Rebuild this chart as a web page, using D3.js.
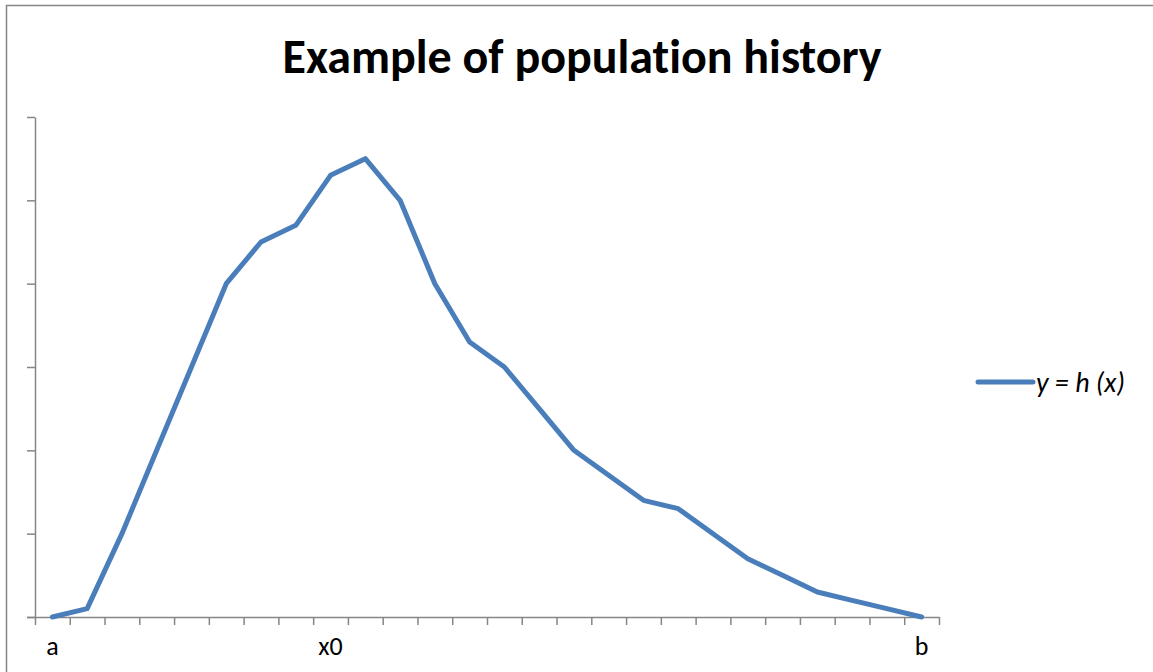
<!DOCTYPE html>
<html>
<head>
<meta charset="utf-8">
<script src="https://cdn.jsdelivr.net/npm/d3@7"></script>
<style>
  html, body { margin: 0; padding: 0; background: #fff; }
  svg { display: block; }
  text { font-variant-ligatures: none; }
</style>
</head>
<body>
<svg id="chart"></svg>
<script>
// category labels (only a few are shown on the axis)
const categories = [
  "a", "", "", "", "", "", "", "", "x0", "", "", "", "", "",
  "", "", "", "", "", "", "", "", "", "", "", "b"
];
// population values h(x)
const values = [
  0, 0.1, 1.0, 2.0, 3.0, 4.0, 4.5, 4.7, 5.3, 5.5, 5.0, 4.0, 3.3, 3.0,
  2.5, 2.0, 1.7, 1.4, 1.3, 1.0, 0.7, 0.5, 0.3, 0.2, 0.1, 0
];
const yTicks = [0, 1, 2, 3, 4, 5, 6];
const seriesName = "y = h (x)";
const title = "Example of population history";

const width = 1153;
const height = 672;
const plot = { left: 35, right: 939, top: 117, bottom: 617 };
const blue = "#4A7EBB";
const axisGrey = "#868686";
const font = "Carlito, Calibri, Lato, sans-serif";

const svg = d3.select("#chart")
  .attr("width", width)
  .attr("height", height);

// outer chart border (right/bottom edges fall outside the view)
svg.append("rect")
  .attr("x", 6.5)
  .attr("y", 5.5)
  .attr("width", 1200)
  .attr("height", 800)
  .attr("fill", "none")
  .attr("stroke", axisGrey)
  .attr("stroke-width", 1.5);

// title
svg.append("text")
  .attr("x", 582)
  .attr("y", 73)
  .attr("text-anchor", "middle")
  .attr("font-family", font)
  .attr("font-weight", "bold")
  .attr("font-size", 48)
  .attr("fill", "#000")
  .text(title);

const xScale = d3.scaleBand()
  .domain(d3.range(categories.length))
  .range([plot.left, plot.right])
  .padding(0);

// boundaries between categories carry the tick marks
const xEdges = d3.scaleLinear()
  .domain([0, categories.length])
  .range([plot.left, plot.right]);

const yScale = d3.scaleLinear()
  .domain([0, 6])
  .range([plot.bottom, plot.top]);

// Y Axis
const yAxis = svg.append("g")
  .attr("transform", `translate(${plot.left}, 0)`)
  .call(d3.axisLeft(yScale).tickValues(yTicks).tickFormat("").tickSizeInner(8).tickSizeOuter(0));

// X Axis ticks
const xAxis = svg.append("g")
  .attr("transform", `translate(0, ${plot.bottom})`)
  .call(d3.axisBottom(xEdges).ticks(categories.length).tickFormat("").tickSizeInner(8).tickSizeOuter(0));

[yAxis, xAxis].forEach((g) => {
  g.selectAll("path, line")
    .attr("stroke", axisGrey)
    .attr("stroke-width", 1.5);
});

// x axis line reaches past the y axis, like the bottom y tick
svg.append("line")
  .attr("x1", plot.left - 8)
  .attr("x2", plot.left)
  .attr("y1", plot.bottom + 0.5)
  .attr("y2", plot.bottom + 0.5)
  .attr("stroke", axisGrey)
  .attr("stroke-width", 1.5);

// X Axis labels, centred on the categories
svg.append("g")
  .selectAll("text")
  .data(categories)
  .enter()
  .append("text")
  .attr("x", (d, i) => xScale(i) + xScale.bandwidth() / 2)
  .attr("y", 655)
  .attr("text-anchor", "middle")
  .attr("font-family", font)
  .attr("font-size", 26)
  .attr("fill", "#000")
  .text((d) => d);

// the line
const lineGenerator = d3.line()
  .x((d, i) => xScale(i) + xScale.bandwidth() / 2)
  .y((d) => yScale(d));

svg.append("path")
  .datum(values)
  .attr("d", lineGenerator)
  .attr("fill", "none")
  .attr("stroke", blue)
  .attr("stroke-width", 5)
  .attr("stroke-linejoin", "round")
  .attr("stroke-linecap", "round");

// legend
const legend = svg.append("g")
  .attr("transform", "translate(978, 382)");

legend.append("line")
  .attr("x1", 0)
  .attr("x2", 55)
  .attr("y1", 0)
  .attr("y2", 0)
  .attr("stroke", blue)
  .attr("stroke-width", 5)
  .attr("stroke-linecap", "round");

legend.append("text")
  .attr("x", 58)
  .attr("y", 10)
  .attr("font-family", font)
  .attr("font-style", "italic")
  .attr("font-size", 28)
  .attr("xml:space", "preserve")
  .attr("fill", "#000")
  .text(seriesName);
</script>
</body>
</html>
